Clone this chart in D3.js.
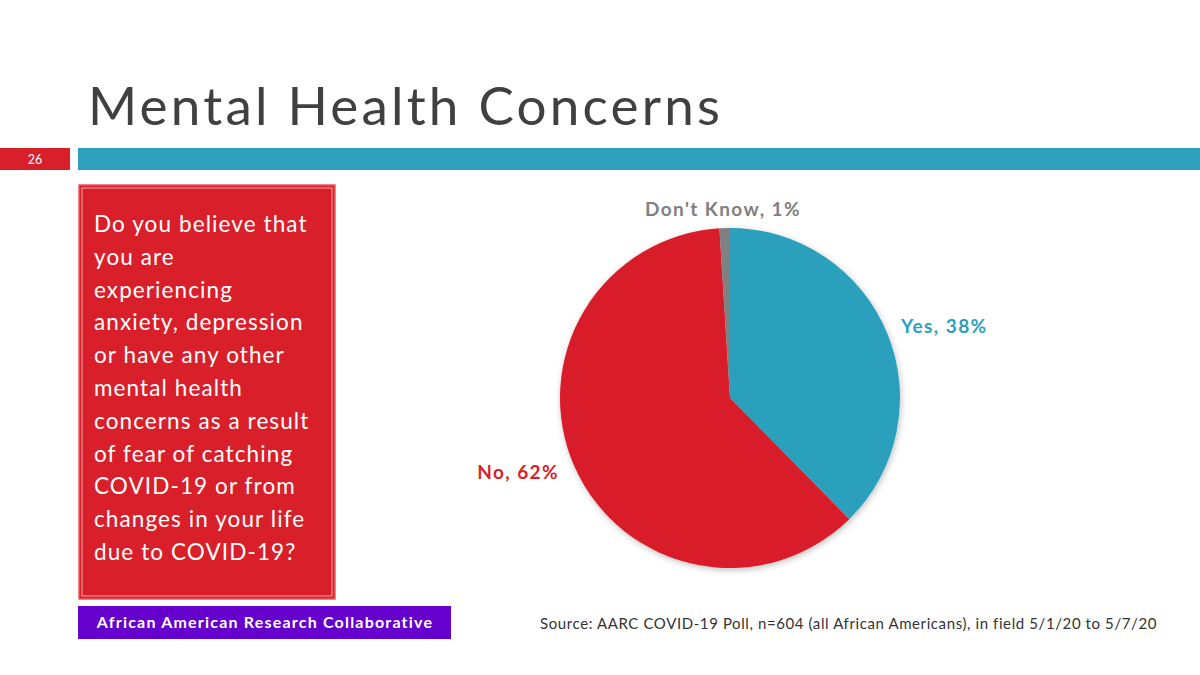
<!DOCTYPE html>
<html><head><meta charset="utf-8">
<script src="https://cdn.jsdelivr.net/npm/d3@7"></script>
<style>body{margin:0;background:#fff;}svg{display:block;}</style>
</head><body>
<svg id="c" width="1200" height="675"></svg>
<script>
const categories = ["Yes", "No", "Don't Know"];
const values = [38, 62, 1];
const colors = ["#2ca0bd", "#d91f2a", "#808080"];
const questionLines = ["Do you believe that","you are","experiencing","anxiety, depression","or have any other","mental health","concerns as a result","of fear of catching","COVID-19 or from","changes in your life","due to COVID-19?"];
const font = "'Century Gothic', Lato, 'Noto Sans', sans-serif";

const svg = d3.select("#c");
const defs = svg.append("defs");
const f = defs.append("filter").attr("id","sh").attr("x","-20%").attr("y","-20%").attr("width","140%").attr("height","140%");
f.append("feDropShadow").attr("dx",1).attr("dy",2).attr("stdDeviation",3).attr("flood-color","#000").attr("flood-opacity",0.25);

svg.append("text").attr("x",88).attr("y",125).attr("font-family",font).attr("font-size",53)
  .attr("letter-spacing",3.2).attr("fill","#404040").text("Mental Health Concerns");

svg.append("rect").attr("x",0).attr("y",148).attr("width",70).attr("height",22).attr("fill","#d91f2a");
svg.append("text").attr("x",35).attr("y",164).attr("text-anchor","middle").attr("font-family",font).attr("font-size",12.5).attr("fill","#fff").text("26");
svg.append("rect").attr("x",78).attr("y",148).attr("width",1122).attr("height",22).attr("fill","#2ca0bd");

svg.append("rect").attr("x",79).attr("y",185).attr("width",256).attr("height",414).attr("fill","#d91f2a").attr("stroke","#e85a62").attr("stroke-width",1.5);
svg.append("rect").attr("x",82).attr("y",188).attr("width",250).attr("height",408).attr("fill","none").attr("stroke","#f3a3a7").attr("stroke-width",1);
svg.append("g").selectAll("text").data(questionLines).join("text")
  .attr("x",94).attr("y",(d,i)=>232+i*32.8).attr("font-family",font).attr("font-size",22.5)
  .attr("letter-spacing",1.1).attr("fill","#fff").text(d=>d);

svg.append("rect").attr("x",78).attr("y",606).attr("width",373).attr("height",33).attr("fill","#6600cc");
svg.append("text").attr("x",265).attr("y",628).attr("text-anchor","middle").attr("font-family",font).attr("font-weight","bold").attr("font-size",16)
  .attr("letter-spacing",1.2).attr("fill","#fff").text("African American Research Collaborative");

svg.append("text").attr("x",540).attr("y",629).attr("font-family",font).attr("font-size",15)
  .attr("letter-spacing",0.6).attr("fill","#333").text("Source: AARC COVID-19 Poll, n=604 (all African Americans), in field 5/1/20 to 5/7/20");

const cx = 730, cy = 398, r = 170;
const pie = d3.pie().sort(null).value(d=>d.v);
const data = pie(categories.map((c,i)=>({c, v: values[i], col: colors[i]})));
const arc = d3.arc().innerRadius(0).outerRadius(r);
const g = svg.append("g").attr("transform",`translate(${cx},${cy})`).attr("filter","url(#sh)");
g.selectAll("path").data(data).join("path").attr("d",arc).attr("fill",d=>d.data.col);

const labels = [
  {i:2, x:723, y:216, anchor:"middle"},
  {i:0, x:901, y:333, anchor:"start"},
  {i:1, x:559, y:479, anchor:"end"}
];
svg.append("g").selectAll("text").data(labels).join("text")
  .attr("x",d=>d.x).attr("y",d=>d.y).attr("text-anchor",d=>d.anchor)
  .attr("font-family",font).attr("font-weight","bold").attr("font-size",19)
  .attr("letter-spacing",1.4).attr("fill",d=>colors[d.i]).text(d=>`${categories[d.i]}, ${values[d.i]}%`);
</script>
</body></html>
